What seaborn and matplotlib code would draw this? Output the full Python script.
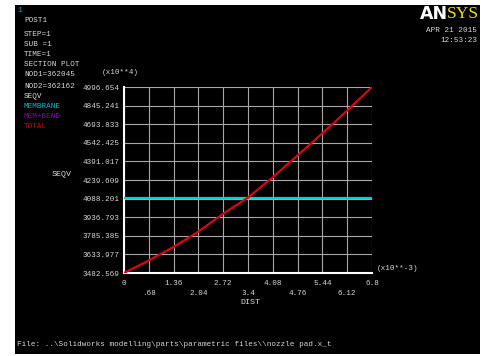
import matplotlib
matplotlib.use('Agg')
import matplotlib.pyplot as plt
import matplotlib.patches as mpatches
import seaborn as sns
import pandas as pd

# data
dist = [0, 0.68, 1.36, 2.04, 2.72, 3.4, 4.08, 4.76, 5.44, 6.12, 6.8]
total = [3482.6, 3585, 3695, 3820, 3965, 4097, 4262, 4440, 4620, 4805, 4996.65]
membrane = [4097] * len(dist)
mem_bend = total
yticks = [3482.569, 3633.977, 3785.385, 3936.793, 4088.201, 4239.609,
          4391.017, 4542.425, 4693.833, 4845.241, 4996.654]
xticks = [0, 0.68, 1.36, 2.04, 2.72, 3.4, 4.08, 4.76, 5.44, 6.12, 6.8]
xtick_labels = ['0', '.68', '1.36', '2.04', '2.72', '3.4', '4.08', '4.76', '5.44', '6.12', '6.8']

df = pd.DataFrame({'DIST': dist, 'MEMBRANE': membrane, 'MEM+BEND': mem_bend, 'TOTAL': total})

sns.set_style('dark')
plt.rcParams['font.family'] = ['Liberation Mono', 'DejaVu Sans Mono']

W, H = 491, 356
fig = plt.figure(figsize=(W / 100, H / 100), dpi=100, facecolor='white')

# black screen area
fig.add_artist(mpatches.Rectangle((15 / W, 1 - 354 / H), 465 / W, 349 / H,
                                  transform=fig.transFigure, facecolor='black',
                                  edgecolor='none', zorder=0))

ax = fig.add_axes([124 / W, 1 - 273 / H, 248 / W, 186 / H])
ax.set_facecolor('black')

sns.lineplot(data=df, x='DIST', y='MEMBRANE', ax=ax, color='#00d0d8', lw=1.6, zorder=3)
sns.lineplot(data=df, x='DIST', y='MEM+BEND', ax=ax, color='#a000c0', lw=1.3, zorder=4)
sns.lineplot(data=df, x='DIST', y='TOTAL', ax=ax, color='#e00000', lw=1.4, zorder=5)

ax.set_xlim(0, 6.8)
ax.set_ylim(yticks[0], yticks[-1])
ax.set_xticks(xticks)
ax.set_yticks(yticks)
ax.set_xticklabels([])
ax.set_yticklabels([f'{v:.3f}' for v in yticks], color='#d8d8d8', fontsize=5.5)
ax.tick_params(axis='y', length=2, color='white', pad=1)
ax.tick_params(axis='x', length=3, color='white', direction='out')
ax.grid(True, color='#a8a8a8', lw=0.8)
ax.set_xlabel('')
ax.set_ylabel('')
for side in ['top', 'right']:
    ax.spines[side].set_visible(False)
for side in ['left', 'bottom']:
    ax.spines[side].set_color('white')
    ax.spines[side].set_linewidth(1.5)

# staggered x tick labels
for i, (x, lab) in enumerate(zip(xticks, xtick_labels)):
    yoff = -0.055 if i % 2 == 0 else -0.11
    ax.text(x, yoff, lab, transform=ax.get_xaxis_transform(), ha='center',
            va='center', color='#d8d8d8', fontsize=5.5)


def ftext(x, y, s, color='#d8d8d8', size=5.5, **kw):
    fig.text(x / W, 1 - y / H, s, color=color, fontsize=size, va='center', **kw)


ftext(250, 302, 'DIST', ha='center', size=6)
ftext(52, 175, 'SEQV', size=6)
ftext(377, 269, '(x10**-3)')
ftext(102, 72, '(x10**4)')

ftext(17, 10, '1', color='#00b0b0', size=6)
left_lines = [('POST1', 20), ('STEP=1', 35), ('SUB =1', 44), ('TIME=1', 54),
              ('SECTION PLOT', 65), ('NOD1=362045', 75), ('NOD2=362162', 86),
              ('SEQV', 96)]
for s, y in left_lines:
    ftext(24, y, s)
ftext(24, 107, 'MEMBRANE', color='#00c0c8')
ftext(24, 117, 'MEM+BEND', color='#9000c0')
ftext(24, 127, 'TOTAL', color='#d00000')

fig.text(448 / W, 1 - 14 / H, 'AN', color='white', fontsize=12.5, fontweight='bold',
         family='DejaVu Sans', ha='right', va='center')
fig.text(447 / W, 1 - 14 / H, 'SYS', color='#f0e000', fontsize=12.5,
         family='Liberation Serif', ha='left', va='center')
ftext(477, 30, 'APR 21 2015', ha='right')
ftext(477, 40, '12:53:23', ha='right')

ftext(17, 344, r'File: ..\Solidworks modelling\parts\parametric files\\nozzle pad.x_t')

fig.savefig('out.png', dpi=100, facecolor='white')
